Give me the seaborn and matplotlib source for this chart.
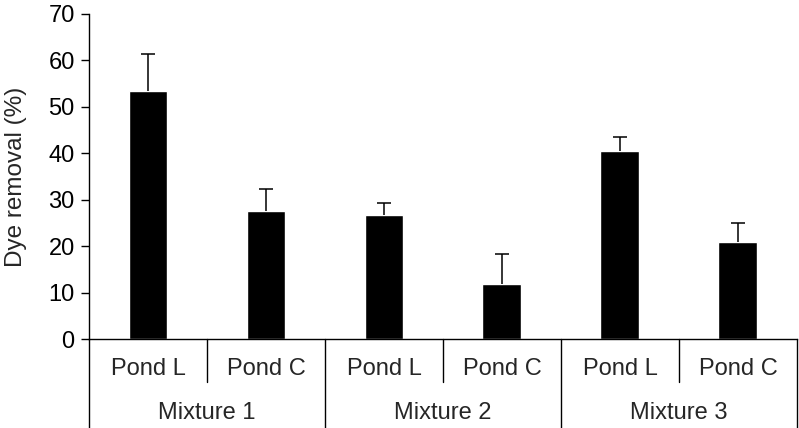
import numpy as np
import pandas as pd
import matplotlib.pyplot as plt
import seaborn as sns

# values
mixtures = ["Mixture 1", "Mixture 2", "Mixture 3"]
ponds = ["Pond L", "Pond C"]
removal = [53.5, 27.6, 26.7, 11.8, 40.6, 20.8]
err_up = [7.9, 4.7, 2.7, 6.6, 2.9, 4.2]

slots = [f"{m} {p}" for m in mixtures for p in ponds]
df = pd.DataFrame({"slot": slots, "removal": removal})

sns.set_style("ticks")
plt.rcParams["font.family"] = ["Liberation Sans", "DejaVu Sans"]

fig = plt.figure(figsize=(7.99, 4.28), dpi=100)
ax = fig.add_axes([0.1114, 0.2079, 0.886, 0.7594])

sns.barplot(data=df, x="slot", y="removal", order=slots, color="black",
            saturation=1, width=0.33, errorbar=None, ax=ax)
eb = ax.errorbar(np.arange(len(slots)), removal, yerr=[np.zeros(len(slots)), err_up],
                 fmt="none", ecolor="black", elinewidth=1.1, capsize=5, capthick=1.1)
# only the upper cap is wanted
eb[1][0].set_visible(False)

ax.set_xlim(-0.5, len(slots) - 0.5)
ax.set_ylim(0, 70)
ax.set_yticks(range(0, 71, 10))
ax.tick_params(axis="y", labelsize=17, length=5.8, width=1, direction="out", pad=4.5, colors="black")
ax.set_ylabel("Dye removal (%)", fontsize=17.5, labelpad=15)

ax.set_xticks(range(len(slots)))
ax.set_xticklabels(ponds * len(mixtures))
ax.tick_params(axis="x", length=0, labelsize=17, pad=14)
ax.set_xlabel("")

for s in ["top", "right"]:
    ax.spines[s].set_visible(False)
for s in ["left", "bottom"]:
    ax.spines[s].set_linewidth(1)
    ax.spines[s].set_color("black")

# category dividers below the axis
trans = ax.get_xaxis_transform()
ax.plot([-0.5, -0.5], [0, -0.28], transform=trans, color="black", lw=1, clip_on=False)
for i in range(len(mixtures)):
    ax.plot([2 * i + 0.5] * 2, [0, -0.132], transform=trans, color="black", lw=1, clip_on=False)
    ax.plot([2 * i + 1.5] * 2, [0, -0.28], transform=trans, color="black", lw=1, clip_on=False)
    ax.text(2 * i + 0.5, -0.228, mixtures[i], transform=trans, ha="center", va="center", fontsize=17)

fig.savefig("out.png", dpi=100)
